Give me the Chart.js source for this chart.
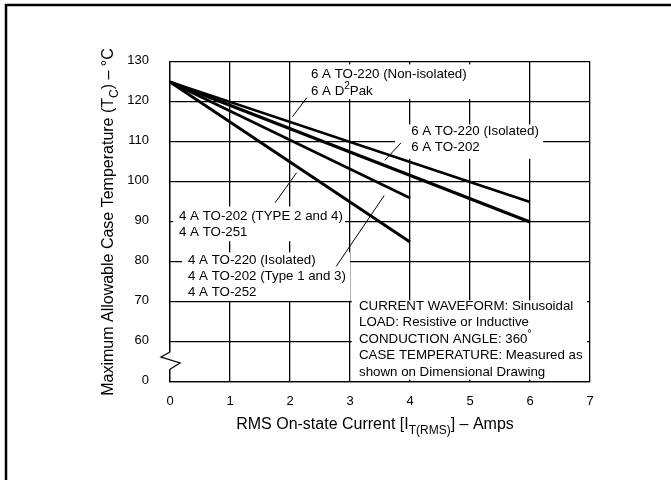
<!DOCTYPE html>
<html>
<head>
<meta charset="utf-8">
<script src="https://cdn.jsdelivr.net/npm/chart.js@4.4.0/dist/chart.umd.min.js"></script>
<style>
    html, body { margin: 0; padding: 0; background: #fff; }
    #wrap { width: 671px; height: 480px; position: relative; }
</style>
</head>
<body>
<div id="wrap"><canvas id="tempChart" width="671" height="480"></canvas></div>
<script>
// current axis (amps) for the 6 A and 4 A parts
const current6A = [0, 6];
const current4A = [0, 4];

// max case temperature (deg C) at those currents
const tempTO220NonIso6A = [125, 95];
const tempTO220Iso6A = [125, 90];
const tempTO220Iso4A = [125, 96];
const tempTO202Type24 = [125, 85];

// y tick values; the lowest one sits below the axis break and reads "0"
const yTicks = [50, 60, 70, 80, 90, 100, 110, 120, 130];
const yTickLabels = ['0', '60', '70', '80', '90', '100', '110', '120', '130'];
const xTicks = [0, 1, 2, 3, 4, 5, 6, 7];

const FONT = '"Liberation Sans", Arial, sans-serif';

function toPoints(xs, ys) {
    return xs.map((x, i) => ({ x: x, y: ys[i] }));
}

// callout boxes, in chart values
const callouts = [
    { box: [2.25, 129.4, 5.03, 120.7], at: [2.35], lines: [[126.8, ['6 A TO-220 (Non-isolated)']], [122.6, ['6 A D', { sup: '2' }, 'Pak']]],
      leader: [2.28, 121.1, 2.04, 116.3] },
    { box: [3.75, 114.4, 6.22, 105.8], at: [4.02], lines: [[112.6, ['6 A TO-220 (Isolated)']], [108.6, ['6 A TO-202']]],
      leader: [3.85, 109.8, 3.58, 105.4] },
    { box: [0.05, 93.9, 2.92, 85.2], at: [0.15], lines: [[91.3, ['4 A TO-202 (TYPE 2 and 4)']], [87.3, ['4 A TO-251']]],
      leader: [1.75, 94.8, 2.11, 102.3] },
    { box: [0.2, 82.4, 3.0, 70.3], at: [0.3], lines: [[80.4, ['4 A TO-220 (Isolated)']], [76.4, ['4 A TO-202 (Type 1 and 3)']], [72.4, ['4 A TO-252']]],
      leader: [2.77, 78.9, 3.57, 96.6] },
    { box: [3.03, 70.4, 6.95, 50.6], at: [3.15], lines: [[68.8, ['CURRENT WAVEFORM: Sinusoidal']], [64.8, ['LOAD: Resistive or Inductive']],
      [60.7, ['CONDUCTION ANGLE: 360', { sup: '\u00b0' }]], [56.6, ['CASE TEMPERATURE: Measured as']], [52.5, ['shown on Dimensional Drawing']]] }
];

function drawRich(ctx, parts, x, y, size, align) {
    const base = size + 'px ' + FONT;
    const small = Math.round(size * 0.72) + 'px ' + FONT;
    let total = 0;
    parts.forEach(p => {
        ctx.font = typeof p === 'string' ? base : small;
        total += ctx.measureText(typeof p === 'string' ? p : (p.sup || p.sub)).width;
    });
    let cx = align === 'center' ? x - total / 2 : x;
    ctx.textAlign = 'left';
    ctx.textBaseline = 'middle';
    parts.forEach(p => {
        if (typeof p === 'string') {
            ctx.font = base;
            ctx.fillText(p, cx, y);
            cx += ctx.measureText(p).width;
        } else {
            const t = p.sup || p.sub;
            ctx.font = small;
            ctx.fillText(t, cx, y + (p.sup ? -size * 0.38 : size * 0.35));
            cx += ctx.measureText(t).width;
        }
    });
}

const decorPlugin = {
    id: 'decor',
    beforeDatasetsDraw(chart) {
        const ctx = chart.ctx;
        const sx = chart.scales.x, sy = chart.scales.y;
        ctx.save();
        ctx.fillStyle = '#fff';
        callouts.forEach(c => {
            const x0 = sx.getPixelForValue(c.box[0]), y0 = sy.getPixelForValue(c.box[1]);
            const x1 = sx.getPixelForValue(c.box[2]), y1 = sy.getPixelForValue(c.box[3]);
            ctx.fillRect(x0, y0, x1 - x0, y1 - y0);
        });
        ctx.restore();
    },
    afterDraw(chart) {
        const ctx = chart.ctx;
        const sx = chart.scales.x, sy = chart.scales.y;
        const area = chart.chartArea;
        ctx.save();
        ctx.fillStyle = '#000';
        ctx.strokeStyle = '#000';

        callouts.forEach(c => {
            c.lines.forEach(l => {
                drawRich(ctx, l[1], sx.getPixelForValue(c.at[0]), sy.getPixelForValue(l[0]), 13.3, 'left');
            });
            if (c.leader) {
                ctx.lineWidth = 1;
                ctx.beginPath();
                ctx.moveTo(sx.getPixelForValue(c.leader[0]), sy.getPixelForValue(c.leader[1]));
                ctx.lineTo(sx.getPixelForValue(c.leader[2]), sy.getPixelForValue(c.leader[3]));
                ctx.stroke();
            }
        });

        // axis break on the left edge
        const bx = area.left;
        const yTop = sy.getPixelForValue(57.5), yBot = sy.getPixelForValue(53.2);
        ctx.fillStyle = '#fff';
        ctx.fillRect(bx - 2, yTop, 4, yBot - yTop);
        ctx.lineWidth = 1.3;
        ctx.beginPath();
        ctx.moveTo(bx, yTop);
        ctx.lineTo(bx - 9, yTop + 5);
        ctx.lineTo(bx + 10, yTop + 11);
        ctx.lineTo(bx, yBot);
        ctx.stroke();

        // axis titles
        ctx.fillStyle = '#000';
        drawRich(ctx, ['RMS On-state Current [I', { sub: 'T(RMS)' }, '] \u2013 Amps'], (area.left + area.right) / 2 - 5, 425, 16, 'center');
        ctx.save();
        ctx.translate(109, (area.top + area.bottom) / 2);
        ctx.rotate(-Math.PI / 2);
        drawRich(ctx, ['Maximum Allowable Case Temperature (T', { sub: 'C' }, ') \u2013 \u00b0C'], 0, 0, 16, 'center');
        ctx.restore();

        // frame of the figure (top and left edges)
        ctx.lineWidth = 2.5;
        ctx.beginPath();
        ctx.moveTo(chart.width, 5);
        ctx.lineTo(6, 5);
        ctx.lineTo(6, chart.height);
        ctx.stroke();
        ctx.restore();
    }
};

document.addEventListener('DOMContentLoaded', function () {
    const lineStyle = { borderColor: '#000', pointRadius: 0, tension: 0, fill: false };
    new Chart(document.getElementById('tempChart'), {
        type: 'line',
        data: {
            datasets: [
                Object.assign({ label: '6 A TO-220 (Non-isolated), 6 A D2Pak', data: toPoints(current6A, tempTO220NonIso6A), borderWidth: 2.6 }, lineStyle),
                Object.assign({ label: '6 A TO-220 (Isolated), 6 A TO-202', data: toPoints(current6A, tempTO220Iso6A), borderWidth: 3.2 }, lineStyle),
                Object.assign({ label: '4 A TO-220 (Isolated), 4 A TO-202 (Type 1 and 3), 4 A TO-252', data: toPoints(current4A, tempTO220Iso4A), borderWidth: 2.6 }, lineStyle),
                Object.assign({ label: '4 A TO-202 (TYPE 2 and 4), 4 A TO-251', data: toPoints(current4A, tempTO202Type24), borderWidth: 3 }, lineStyle)
            ]
        },
        options: {
            responsive: false,
            animation: false,
            layout: { padding: { left: 0, right: 81, top: 62, bottom: 0 } },
            plugins: {
                legend: { display: false },
                tooltip: { enabled: false }
            },
            scales: {
                x: {
                    type: 'linear',
                    min: 0,
                    max: 7,
                    afterBuildTicks: axis => { axis.ticks = xTicks.map(v => ({ value: v })); },
                    afterFit: axis => { axis.height = 98; },
                    grid: { color: '#000', lineWidth: 1.3, drawTicks: false },
                    border: { color: '#000', width: 1.3 },
                    ticks: { color: '#000', padding: 12, font: { family: FONT, size: 13 } }
                },
                y: {
                    type: 'linear',
                    min: 50,
                    max: 130,
                    afterBuildTicks: axis => { axis.ticks = yTicks.map(v => ({ value: v })); },
                    afterFit: axis => { axis.width = 170; },
                    grid: { color: '#000', lineWidth: 1.3, drawTicks: false },
                    border: { color: '#000', width: 1.3 },
                    ticks: {
                        color: '#000',
                        padding: 21,
                        labelOffset: -2,
                        font: { family: FONT, size: 13 },
                        callback: v => yTickLabels[yTicks.indexOf(v)]
                    }
                }
            }
        },
        plugins: [decorPlugin]
    });
});
</script>
</body>
</html>
